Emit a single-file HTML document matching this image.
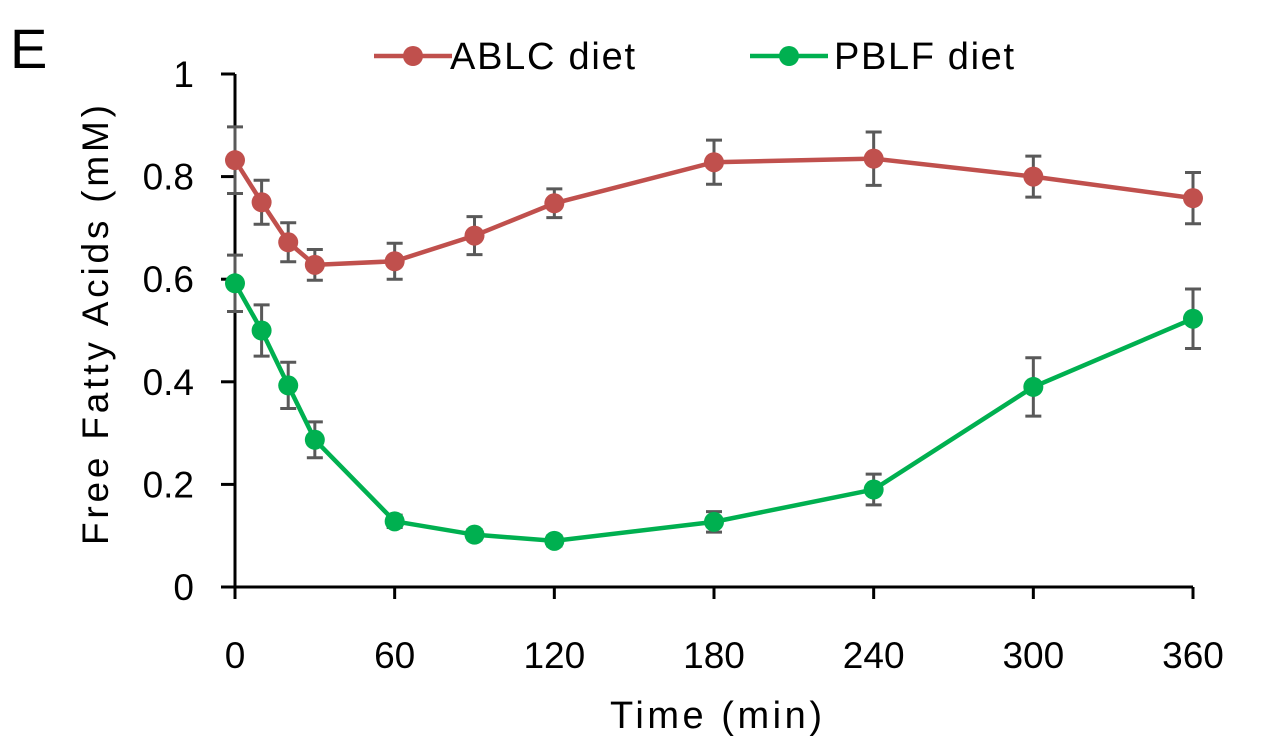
<!DOCTYPE html>
<html><head><meta charset="utf-8"><style>
html,body{margin:0;padding:0;background:#fff;}
svg{display:block;font-family:"Liberation Sans","DejaVu Sans",sans-serif;}
</style></head><body>
<svg id="chart" width="1276" height="752" viewBox="0 0 1276 752" xmlns="http://www.w3.org/2000/svg">
<text x="10" y="68" font-size="56" fill="#000">E</text>
<g id="axes"></g>
<g id="series"></g>
<g>
 <g>
  <line x1="374" y1="56" x2="452" y2="56" stroke="#c0504d" stroke-width="4.5"/>
  <circle cx="413" cy="56" r="10" fill="#c0504d"/>
  <text x="450" y="69" font-size="38" textLength="185" fill="#000">ABLC diet</text>
 </g>
 <g>
  <line x1="750" y1="56" x2="828" y2="56" stroke="#00b050" stroke-width="4.5"/>
  <circle cx="789" cy="56" r="10" fill="#00b050"/>
  <text x="834" y="69" font-size="38" textLength="180" fill="#000">PBLF diet</text>
 </g>
</g>
<text x="716" y="728" font-size="38" text-anchor="middle" textLength="212" fill="#000">Time (min)</text>
<text transform="translate(108,325) rotate(-90)" font-size="37" text-anchor="middle" textLength="440" fill="#000">Free Fatty Acids (mM)</text>
</svg>
<script>
const times=[0,10,20,30,60,90,120,180,240,300,360];
const ablc=[0.832,0.750,0.672,0.628,0.635,0.685,0.748,0.828,0.835,0.800,0.758];
const ablcErr=[0.065,0.043,0.038,0.030,0.035,0.037,0.028,0.043,0.052,0.040,0.050];
const pblf=[0.592,0.500,0.393,0.287,0.128,0.102,0.090,0.127,0.190,0.390,0.523];
const pblfErr=[0.055,0.050,0.045,0.035,0.012,0.010,0.010,0.020,0.030,0.057,0.058];
const xTicks=[0,60,120,180,240,300,360];
const yTicks=[0,0.2,0.4,0.6,0.8,1];
const yTickLabels=["0","0.2","0.4","0.6","0.8","1"];

const NS="http://www.w3.org/2000/svg";
const X0=235,X1=1193,Y0=587,Y1=74;
const xs=t=>X0+(t/360)*(X1-X0);
const ys=v=>Y0-(v/1)*(Y0-Y1);
function mk(tag,attrs,parent){const e=document.createElementNS(NS,tag);for(const k in attrs)e.setAttribute(k,attrs[k]);parent.appendChild(e);return e;}
const axes=document.getElementById('axes');
const series=document.getElementById('series');

const ya=mk('line',{x1:X0,y1:Y1,x2:X0,y2:Y0,stroke:'#000','stroke-width':3},axes);


const xa=mk('line',{x1:X0,y1:Y0,x2:X1,y2:Y0,stroke:'#000','stroke-width':3},axes);


yTicks.forEach((v,i)=>{
  const y=ys(v);
  const tk=mk('line',{x1:X0-14,y1:y,x2:X0,y2:y,stroke:'#000','stroke-width':3},axes);
  
  
  const tl=mk('text',{x:194,y:y+13,'font-size':37,'text-anchor':'end',fill:'#000'},axes);
  tl.textContent=yTickLabels[i];
  
  
});
xTicks.forEach(t=>{
  const x=xs(t);
  const tk=mk('line',{x1:x,y1:Y0,x2:x,y2:Y0+12,stroke:'#000','stroke-width':3},axes);
  
  
  const tl=mk('text',{x:x,y:668,'font-size':37,'text-anchor':'middle',fill:'#000'},axes);
  tl.textContent=String(t);
  
  
});

function drawSeries(vals,errs,color,name){
  const g=mk('g',{},series);
  
  
  vals.forEach((v,i)=>{
    const x=xs(times[i]),yt=ys(v+errs[i]),yb=ys(v-errs[i]);
    const eb=mk('path',{d:`M${x},${yt}V${yb}M${x-8},${yt}H${x+8}M${x-8},${yb}H${x+8}`,stroke:'#595959','stroke-width':3,fill:'none'},g);
    
    
  });
  const pl=mk('polyline',{points:vals.map((v,i)=>xs(times[i])+','+ys(v)).join(' '),fill:'none',stroke:color,'stroke-width':4.5},g);
  
  
  vals.forEach((v,i)=>{
    const c=mk('circle',{cx:xs(times[i]),cy:ys(v),r:10,fill:color},g);
    
    
  });
}
drawSeries(ablc,ablcErr,'#c0504d','ablc');
drawSeries(pblf,pblfErr,'#00b050','pblf');
</script>
</body></html>
